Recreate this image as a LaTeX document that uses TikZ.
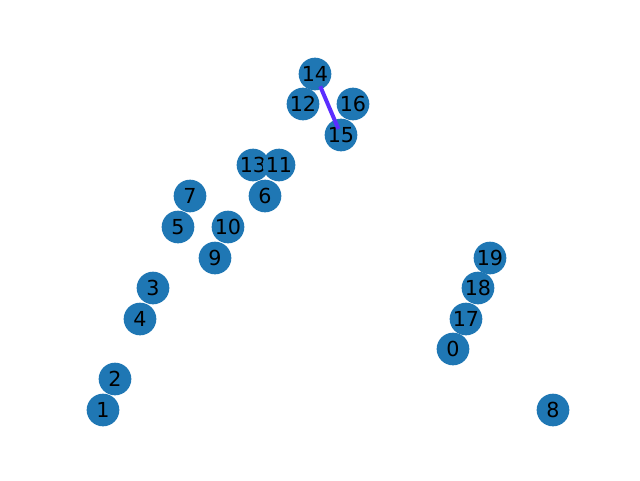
\documentclass[tikz,border=0pt]{standalone}
\usepackage{fontspec}
\setmainfont{DejaVu Sans}
\definecolor{nodeblue}{HTML}{1F77B4}
\definecolor{edgeviolet}{HTML}{5B2EFF}
\begin{document}
\begin{tikzpicture}[x=0.75pt,y=-0.75pt,
  vtx/.style={circle,fill=nodeblue,draw=none,minimum size=24.5pt,inner sep=0pt,
    font=\fontsize{15.5pt}{17pt}\selectfont,text=black},
  link/.style={draw=edgeviolet,line width=3pt}]
\useasboundingbox (0,0) rectangle (640,480);
\node[vtx] (n14) at (315,74) {14};
\node[vtx] (n12) at (303,104) {12};
\node[vtx] (n16) at (353,104) {16};
\node[vtx] (n15) at (341,135) {15};
\node[vtx] (n13) at (253,165) {13};
\node[vtx] (n11) at (279,165) {11};
\node[vtx] (n6) at (265,196) {6};
\node[vtx] (n7) at (190,196) {7};
\node[vtx] (n5) at (178,227) {5};
\node[vtx] (n10) at (228,227) {10};
\node[vtx] (n9) at (215,258) {9};
\node[vtx] (n19) at (490,258) {19};
\node[vtx] (n18) at (478,288) {18};
\node[vtx] (n3) at (153,288) {3};
\node[vtx] (n17) at (466,319) {17};
\node[vtx] (n4) at (140,319) {4};
\node[vtx] (n0) at (453,349) {0};
\node[vtx] (n2) at (115,379) {2};
\node[vtx] (n1) at (103,410) {1};
\node[vtx] (n8) at (553,410) {8};
\draw[link,shorten <=10pt,shorten >=5pt] (n14.center) -- (n15.center);
\end{tikzpicture}
\end{document}
